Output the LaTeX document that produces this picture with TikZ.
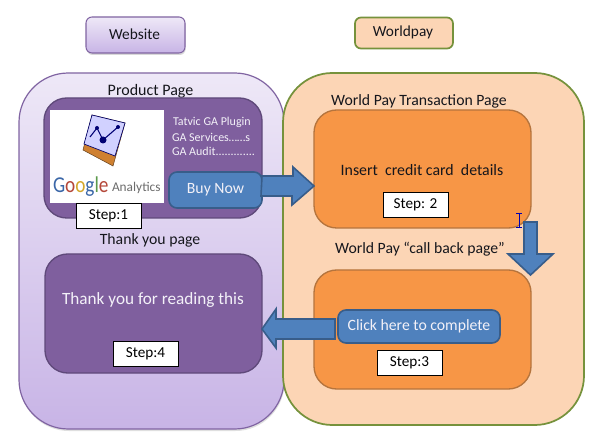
\documentclass[tikz,border=0pt]{standalone}
\usepackage{fontspec}
\setmainfont{Carlito}
\usetikzlibrary{shadows,calc}
\definecolor{labeltext}{HTML}{15161C}
\definecolor{lilacborder}{HTML}{8064A2}
\definecolor{lilactop}{HTML}{EEE8F7}
\definecolor{lilacbottom}{HTML}{C8B4E6}
\definecolor{plumfill}{HTML}{7F5F9E}
\definecolor{plumborder}{HTML}{5F497A}
\definecolor{peachfill}{HTML}{FCD5B5}
\definecolor{olive}{HTML}{76923C}
\definecolor{orangefill}{HTML}{F79646}
\definecolor{orangeborder}{HTML}{B5743D}
\definecolor{bluefill}{HTML}{4F81BD}
\definecolor{blueborder}{HTML}{385D8A}
\definecolor{softwhite}{HTML}{F3F1F8}
\newcommand{\bx}[5]{\node[#1,minimum width=#4*0.75pt,minimum height=#5*0.75pt] (#2) at (#3) {};}
\tikzset{
  x=0.75pt,y=-0.75pt,
  every node/.style={inner sep=0pt,outer sep=0pt,font=\fontsize{11.8}{14}\selectfont,text=labeltext},
  panelleft/.style={draw=lilacborder,line width=0.9pt,rounded corners=37pt,top color=lilactop,bottom color=lilacbottom},
  panelright/.style={draw=olive,line width=1.3pt,rounded corners=37pt,fill=peachfill},
  plumbox/.style={draw=plumborder,line width=1pt,rounded corners=17pt,fill=plumfill},
  orangebox/.style={draw=orangeborder,line width=1pt,rounded corners=17pt,fill=orangefill},
  bluebutton/.style={draw=blueborder,line width=1.2pt,rounded corners=6pt,fill=bluefill},
  buttontext/.style={text=softwhite,font=\fontsize{11.8}{14}\selectfont},
  stepbox/.style={draw=black,line width=0.7pt,fill=white,text=black,minimum width=48.75pt,minimum height=18.75pt,font=\fontsize{11.4}{13}\selectfont},
  blockarrow/.style={draw=blueborder,line width=1.2pt,fill=bluefill,line join=miter},
  whitetext/.style={text=softwhite},
  smalltext/.style={text=softwhite,font=\fontsize{9}{10}\selectfont,anchor=west},
}
\begin{document}
\begin{tikzpicture}
\useasboundingbox (0,0) rectangle (595,448);
\fill[white] (0,0) rectangle (595,448);
% headers
\bx{draw=lilacborder,line width=0.8pt,rounded corners=4.5pt,top color=lilactop,bottom color=lilacbottom,drop shadow={shadow xshift=0.5pt,shadow yshift=-1.5pt,opacity=0.3}}{website}{135.5,35}{99}{36}
\node[font=\fontsize{11.5}{14}\selectfont] at (134.5,34.5) {Website};
\bx{draw=olive,line width=1.3pt,rounded corners=4.5pt,fill=peachfill}{worldpay}{404,33}{98}{31}
\node[font=\fontsize{11.5}{14}\selectfont] at (403,32.5) {Worldpay};
% panels
\bx{panelleft,drop shadow={shadow xshift=0.5pt,shadow yshift=-1.5pt,opacity=0.25}}{leftpanel}{151.5,251}{265}{356}
\bx{panelright}{rightpanel}{433.5,249}{301}{352}
% left column
\node[font=\fontsize{12}{14}\selectfont] (productlabel) at (150.5,91) {Product Page};
\bx{plumbox}{prodbox}{153,158}{218}{120}
\node[fill=white,minimum width=85.5pt,minimum height=69.75pt] (logo) at (107,156.5) {};
% logo icon
\path[fill=brown!75!orange,draw=brown!55!black,line width=0.4pt] (92,115) -- (125,123) -- (113,166) -- (83,150) -- cycle;
\path[fill=blue!18!white,draw=blue!40!black,line width=0.5pt] (92,115) -- (125,123) -- (115,156) -- (84,144) -- cycle;
\draw[blue!45!black,line width=0.8pt] (90,137) -- (97,128) -- (103,140) -- (118,127);
\fill[blue!45!black] (97,128) circle (2) (103,140) circle (3.5) (118,127) circle (2);
\node[anchor=base west,xscale=0.85,font=\fontsize{17}{17}\selectfont] (google) at (53,193) {\textcolor[HTML]{3B67A8}{G}\textcolor[HTML]{B5483A}{o}\textcolor[HTML]{D4A72C}{o}\textcolor[HTML]{3B67A8}{g}\textcolor[HTML]{5C9A4B}{l}\textcolor[HTML]{B5483A}{e}};
\node[anchor=base west,font=\fontsize{10}{11}\selectfont,text=gray!85!black] (analytics) at (112,192) {Analytics};
\node[smalltext] (t1) at (173,122) {Tatvic GA Plugin};
\node[smalltext] (t2) at (172,137) {GA Services……s};
\node[smalltext] (t3) at (172,151) {GA Audit.............};
\bx{bluebutton}{buy}{215.5,190}{93}{36}
\node[buttontext] at (buy) {Buy Now};
\node[stepbox] (step1) at (108.5,215.5) {Step:1};
\node (thanklabel) at (150,240) {Thank you page};
\bx{plumbox}{thankbox}{153.5,313.5}{217}{119}
\node[whitetext,font=\fontsize{12.9}{15}\selectfont] (thanktext) at (153,300) {Thank you for reading this};
\node[stepbox] (step4) at (145.5,353.5) {Step:4};
% right column
\node (wplabel) at (419,101) {World Pay Transaction Page};
\bx{orangebox}{card}{422.5,169}{217}{118}
\node[font=\fontsize{11.9}{14}\selectfont] (cardtext) at (422,170) {Insert\ \ credit card\ \ details};
\node[stepbox] (step2) at (415.5,204.5) {Step: 2};
\node (cblabel) at (420,249) {World Pay “call back page”};
\bx{orangebox}{cbbox}{422.5,329.5}{217}{119}
\bx{bluebutton}{click}{419,326.5}{162}{33}
\node[buttontext] at (click) {Click here to complete};
\node[stepbox] (step3) at (409.5,362.5) {Step:3};
% block arrows
\coordinate (aS) at (buy.east |- 0,186);
\coordinate (aE) at (card.west |- 0,186);
\draw[blockarrow] ($(aS)+(0,-10)$) -- ++(31,0) -- ++(0,-9) -- (aE) -- ++(-22,19) -- ++(0,-9) -- ++(-31,0) -- cycle;
\coordinate (bS) at (530.5,222);
\coordinate (bE) at (530.5,275);
\draw[blockarrow] ($(bS)+(-6.5,0)$) -- ++(13,0) -- ++(0,32) -- ++(16,0) -- (bE) -- ++(-22.5,-21) -- ++(16,0) -- cycle;
\coordinate (cS) at (click.west |- 0,329);
\coordinate (cE) at (thankbox.east |- 0,329);
\draw[blockarrow] ($(cS)+(-3,-10)$) -- (276,319) -- ++(0,-10) -- (cE) -- (276,348) -- ++(0,-9) -- ($(cS)+(-3,10)$) -- cycle;
% text cursor
\draw[blue!70!black,line width=0.6pt] (519,213) -- (519,227) (516,213) -- (522,213) (516,227) -- (522,227);
\end{tikzpicture}
\end{document}
